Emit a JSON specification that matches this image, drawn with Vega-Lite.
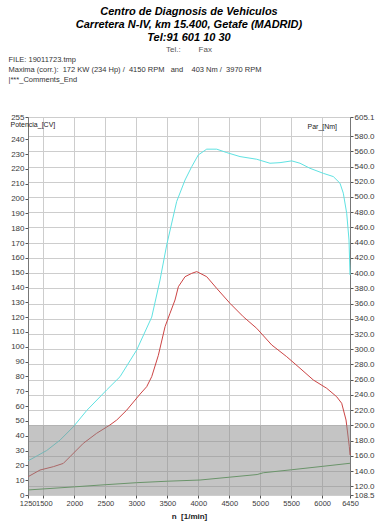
{
  "$schema": "https://vega.github.io/schema/vega-lite/v6.json",
  "width": 322,
  "height": 378,
  "autosize": {"type": "none"},
  "padding": {"left": 28, "top": 117, "right": 32, "bottom": 30},
  "background": "white",
  "title": {
    "text": ["Centro de Diagnosis de Vehiculos", "Carretera N-IV, km 15.400, Getafe (MADRID)", "Tel:91 601 10 30"],
    "subtitle": "Tel.:\u00a0\u00a0\u00a0\u00a0\u00a0\u00a0\u00a0\u00a0Fax",
    "anchor": "middle",
    "frame": "group",
    "font": "Liberation Sans",
    "fontSize": 11,
    "fontWeight": "bold",
    "fontStyle": "italic",
    "color": "black",
    "lineHeight": 13,
    "subtitleFont": "Liberation Sans",
    "subtitleFontSize": 8,
    "subtitleColor": "#555555",
    "subtitlePadding": 3,
    "offset": 1
  },
  "datasets": {
    "left": [
      {"rpm": 1250, "cv": 23, "s": "Potencia"},
      {"rpm": 1400, "cv": 26.5, "s": "Potencia"},
      {"rpm": 1552, "cv": 30, "s": "Potencia"},
      {"rpm": 1767, "cv": 37, "s": "Potencia"},
      {"rpm": 1982, "cv": 46, "s": "Potencia"},
      {"rpm": 2198, "cv": 57, "s": "Potencia"},
      {"rpm": 2521, "cv": 70.9, "s": "Potencia"},
      {"rpm": 2736, "cv": 79.8, "s": "Potencia"},
      {"rpm": 3005, "cv": 97.8, "s": "Potencia"},
      {"rpm": 3248, "cv": 120, "s": "Potencia"},
      {"rpm": 3382, "cv": 145, "s": "Potencia"},
      {"rpm": 3490, "cv": 168.7, "s": "Potencia"},
      {"rpm": 3651, "cv": 198, "s": "Potencia"},
      {"rpm": 3786, "cv": 212.5, "s": "Potencia"},
      {"rpm": 3894, "cv": 221.5, "s": "Potencia"},
      {"rpm": 4000, "cv": 229.4, "s": "Potencia"},
      {"rpm": 4136, "cv": 233.3, "s": "Potencia"},
      {"rpm": 4297, "cv": 233.3, "s": "Potencia"},
      {"rpm": 4459, "cv": 231, "s": "Potencia"},
      {"rpm": 4674, "cv": 228.3, "s": "Potencia"},
      {"rpm": 4943, "cv": 226.5, "s": "Potencia"},
      {"rpm": 5158, "cv": 223.8, "s": "Potencia"},
      {"rpm": 5320, "cv": 224.2, "s": "Potencia"},
      {"rpm": 5509, "cv": 225.4, "s": "Potencia"},
      {"rpm": 5643, "cv": 223.8, "s": "Potencia"},
      {"rpm": 5804, "cv": 220.4, "s": "Potencia"},
      {"rpm": 6019, "cv": 217, "s": "Potencia"},
      {"rpm": 6181, "cv": 214.8, "s": "Potencia"},
      {"rpm": 6289, "cv": 210.3, "s": "Potencia"},
      {"rpm": 6342, "cv": 203.6, "s": "Potencia"},
      {"rpm": 6397, "cv": 190, "s": "Potencia"},
      {"rpm": 6434, "cv": 172, "s": "Potencia"},
      {"rpm": 6450, "cv": 148.4, "s": "Potencia"},
      {"rpm": 1250, "cv": 3.4, "s": "Perdidas"},
      {"rpm": 2000, "cv": 5.5, "s": "Perdidas"},
      {"rpm": 2413, "cv": 6.7, "s": "Perdidas"},
      {"rpm": 3000, "cv": 8.3, "s": "Perdidas"},
      {"rpm": 3500, "cv": 9.3, "s": "Perdidas"},
      {"rpm": 4028, "cv": 10.1, "s": "Perdidas"},
      {"rpm": 4500, "cv": 12, "s": "Perdidas"},
      {"rpm": 4950, "cv": 13.8, "s": "Perdidas"},
      {"rpm": 5050, "cv": 15, "s": "Perdidas"},
      {"rpm": 5500, "cv": 17, "s": "Perdidas"},
      {"rpm": 6000, "cv": 19.3, "s": "Perdidas"},
      {"rpm": 6450, "cv": 21.4, "s": "Perdidas"}
    ],
    "par": [
      {"rpm": 1250, "nm": 132.5},
      {"rpm": 1444, "nm": 141.3},
      {"rpm": 1659, "nm": 145.7},
      {"rpm": 1820, "nm": 150},
      {"rpm": 1928, "nm": 158.8},
      {"rpm": 2143, "nm": 176.4},
      {"rpm": 2359, "nm": 189.6},
      {"rpm": 2574, "nm": 200.5},
      {"rpm": 2683, "nm": 207},
      {"rpm": 2844, "nm": 220},
      {"rpm": 3059, "nm": 241},
      {"rpm": 3167, "nm": 250.8},
      {"rpm": 3248, "nm": 264},
      {"rpm": 3355, "nm": 292},
      {"rpm": 3463, "nm": 329.6},
      {"rpm": 3543, "nm": 347.2},
      {"rpm": 3624, "nm": 364.7},
      {"rpm": 3678, "nm": 382.1},
      {"rpm": 3786, "nm": 395.3},
      {"rpm": 3894, "nm": 399.7},
      {"rpm": 3975, "nm": 402},
      {"rpm": 4136, "nm": 395.3},
      {"rpm": 4297, "nm": 380},
      {"rpm": 4512, "nm": 360.3},
      {"rpm": 4727, "nm": 342.7},
      {"rpm": 4943, "nm": 327.5},
      {"rpm": 5186, "nm": 305.6},
      {"rpm": 5428, "nm": 290.2},
      {"rpm": 5643, "nm": 275},
      {"rpm": 5858, "nm": 259.6},
      {"rpm": 6074, "nm": 248.7},
      {"rpm": 6235, "nm": 237.6},
      {"rpm": 6316, "nm": 229},
      {"rpm": 6386, "nm": 207},
      {"rpm": 6439, "nm": 172},
      {"rpm": 6450, "nm": 161}
    ]
  },
  "config": {
    "view": {"stroke": "#8a8a8a", "strokeWidth": 1},
    "axis": {
      "labelFont": "Liberation Sans",
      "labelFontSize": 8,
      "labelColor": "#3a3a3a",
      "titleFont": "Liberation Sans",
      "titleColor": "#222222",
      "tickColor": "#555555",
      "domainColor": "#777777",
      "gridColor": "#cdcdcd",
      "gridOpacity": 1,
      "labelOverlap": false,
      "labelFlush": false
    }
  },
  "layer": [
    {
      "data": {"name": "left"},
      "mark": {"type": "line", "strokeWidth": 1},
      "encoding": {
        "x": {
          "field": "rpm",
          "type": "quantitative",
          "scale": {"domain": [1250, 6450], "nice": false, "zero": false},
          "axis": {
            "orient": "bottom",
            "values": [1250, 1500, 2000, 2500, 3000, 3500, 4000, 4500, 5000, 5500, 6000, 6450],
            "format": "d",
            "labelFontSize": 7.5,
            "labelAlign": {"condition": [{"test": "datum.value == 1250", "value": "right"}, {"test": "datum.value == 1500", "value": "left"}], "value": "center"},
            "labelOffset": {"condition": [{"test": "datum.value == 1250", "value": 8}, {"test": "datum.value == 1500", "value": -8}], "value": 0},
            "grid": true,
            "domain": false,
            "tickSize": 3,
            "labelPadding": 1,
            "title": "n\u00a0\u00a0[1/min]",
            "titleFontSize": 8,
            "titleFontWeight": "bold",
            "titleBaseline": "middle",
            "titleAlign": "center",
            "titleX": 161,
            "titleY": 21
          }
        },
        "y": {
          "field": "cv",
          "type": "quantitative",
          "scale": {"domain": [0, 255], "nice": false, "zero": false},
          "axis": {
            "orient": "left",
            "values": [0, 10, 20, 30, 40, 50, 60, 70, 80, 90, 100, 110, 120, 130, 140, 150, 160, 170, 180, 190, 200, 210, 220, 230, 240, 255],
            "grid": false,
            "tickSize": 3,
            "labelPadding": 1,
            "title": "Potencia_[CV]",
            "titleAngle": 0,
            "titleAlign": "left",
            "titleBaseline": "middle",
            "titleFontSize": 7,
            "titleFontWeight": "normal",
            "titleX": -18,
            "titleY": 7
          }
        },
        "color": {
          "field": "s",
          "type": "nominal",
          "scale": {"domain": ["Potencia", "Perdidas"], "range": ["#5fe2e2", "#4a9e4a"]},
          "legend": null
        }
      }
    },
    {
      "data": {"name": "par"},
      "mark": {"type": "line", "color": "#cc4444", "strokeWidth": 1},
      "encoding": {
        "x": {
          "field": "rpm",
          "type": "quantitative",
          "scale": {"domain": [1250, 6450], "nice": false, "zero": false},
          "axis": {
            "orient": "top",
            "labels": false,
            "ticks": false,
            "domain": false,
            "grid": false,
            "title": ["FILE: 19011723.tmp", "Maxima (corr.):\u00a0\u00a0172 KW (234 Hp) /\u00a0\u00a04150 RPM\u00a0\u00a0\u00a0and\u00a0\u00a0\u00a0\u00a0403 Nm /\u00a0\u00a03970 RPM", "|***_Comments_End"],
            "titleAngle": 0,
            "titleAlign": "left",
            "titleBaseline": "top",
            "titleFontSize": 7.5,
            "titleFontWeight": "normal",
            "titleLineHeight": 10,
            "titleColor": "#333333",
            "titleX": -20,
            "titleY": -62
          }
        },
        "y": {
          "field": "nm",
          "type": "quantitative",
          "scale": {"domain": [108.5, 605.1], "nice": false, "zero": false},
          "axis": {
            "orient": "right",
            "values": [108.5, 120, 140, 160, 180, 200, 220, 240, 260, 280, 300, 320, 340, 360, 380, 400, 420, 440, 460, 480, 500, 520, 540, 560, 580, 605.1],
            "labelExpr": "format(datum.value, '.1f')",
            "grid": true,
            "tickSize": 3,
            "labelPadding": 1,
            "title": "Par_[Nm]",
            "titleAngle": 0,
            "titleAlign": "left",
            "titleBaseline": "middle",
            "titleFontSize": 7,
            "titleFontWeight": "normal",
            "titleX": -43,
            "titleY": 9
          }
        }
      }
    },
    {
      "data": {"values": [{}]},
      "mark": {"type": "rect", "color": "#8a8a8a", "opacity": 0.5},
      "encoding": {
        "x": {"datum": 1250, "type": "quantitative", "axis": null},
        "x2": {"datum": 6450},
        "y": {"datum": 108.5, "type": "quantitative", "axis": null, "scale": {"domain": [108.5, 605.1], "nice": false, "zero": false}},
        "y2": {"datum": 200}
      }
    }
  ],
  "resolve": {
    "scale": {"y": "independent"},
    "axis": {"x": "independent", "y": "independent"}
  }
}
